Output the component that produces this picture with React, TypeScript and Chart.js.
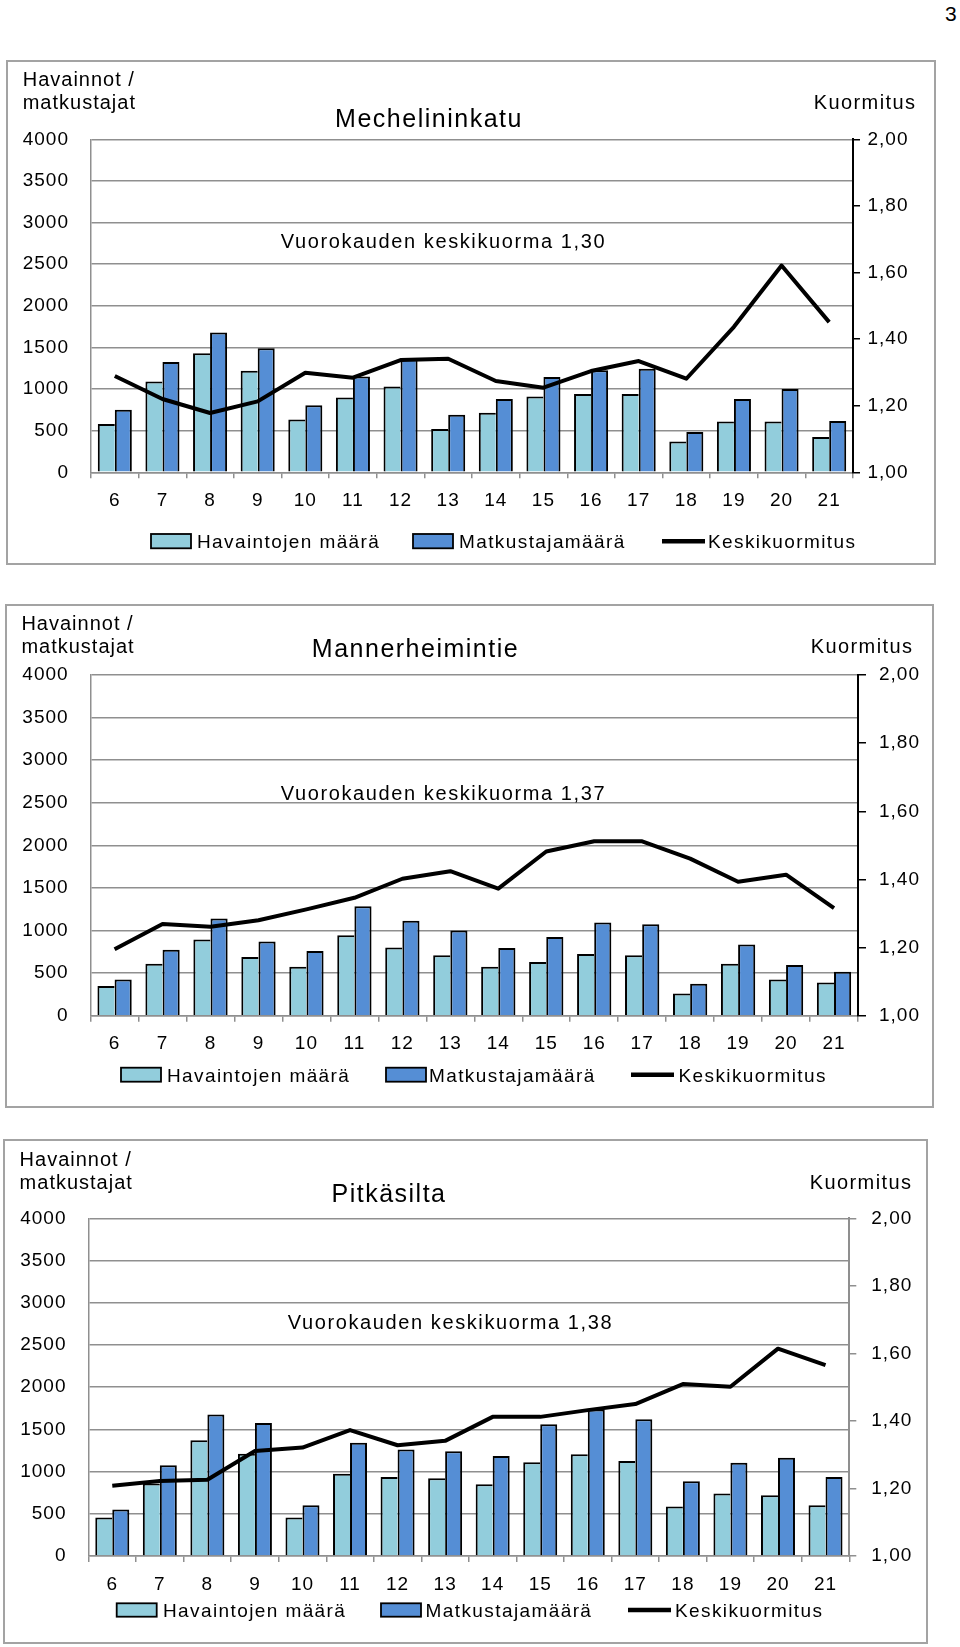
import React, { useEffect, useRef, useState } from 'react';
import { Chart, registerables } from 'chart.js';

Chart.register(...registerables);

// ---------- DATA ----------
const hours = ['6', '7', '8', '9', '10', '11', '12', '13', '14', '15', '16', '17', '18', '19', '20', '21'];
const leftTickMax = 4000;
const leftTickStep = 500;
const rightTickMin = 1.0;
const rightTickMax = 2.0;
const rightTickStep = 0.2;

const seriesNames = ['Havaintojen määrä', 'Matkustajamäärä', 'Keskikuormitus'];
const leftAxisTitle = ['Havainnot /', 'matkustajat'];
const rightAxisTitle = 'Kuormitus';

const chartTitles = ['Mechelininkatu', 'Mannerheimintie', 'Pitkäsilta'];
const dailyNotes = ['Vuorokauden keskikuorma 1,30', 'Vuorokauden keskikuorma 1,37', 'Vuorokauden keskikuorma 1,38'];

const mechHavainnot = [580, 1090, 1430, 1220, 635, 900, 1030, 520, 715, 910, 940, 940, 370, 610, 610, 425];
const mechMatkustajat = [750, 1325, 1680, 1490, 805, 1150, 1370, 690, 880, 1145, 1225, 1245, 485, 880, 1000, 615];
const mechKuormitus = [1.289, 1.22, 1.178, 1.213, 1.299, 1.284, 1.337, 1.341, 1.274, 1.254, 1.304, 1.334, 1.281, 1.437, 1.621, 1.451];

const manHavainnot = [350, 610, 895, 690, 575, 945, 800, 710, 575, 630, 725, 710, 260, 610, 425, 390];
const manMatkustajat = [425, 775, 1140, 870, 760, 1285, 1115, 1000, 795, 925, 1095, 1075, 375, 835, 595, 515];
const manKuormitus = [1.195, 1.269, 1.261, 1.28, 1.312, 1.346, 1.402, 1.424, 1.373, 1.482, 1.512, 1.512, 1.461, 1.393, 1.414, 1.316];

const pitHavainnot = [455, 860, 1370, 1210, 455, 975, 935, 920, 850, 1110, 1205, 1125, 585, 740, 720, 600];
const pitMatkustajat = [550, 1075, 1675, 1575, 600, 1340, 1260, 1240, 1185, 1560, 1735, 1620, 885, 1105, 1165, 935];
const pitKuormitus = [1.208, 1.222, 1.226, 1.311, 1.321, 1.373, 1.328, 1.341, 1.412, 1.412, 1.432, 1.45, 1.509, 1.501, 1.614, 1.565];

// ---------- STYLE / LAYOUT ----------
const FONT = '"Liberation Sans", Arial, Helvetica, sans-serif';
const LIGHT = '#92CDDC';
const DARK = '#558ED5';
const GRID = '#8f8f8f';
const BOX_BORDER = '#a3a3a3';
const BAR_BORDER = 2;

const layouts = [
  {
    left: 7, top: 61, width: 928, height: 503,
    plotL: 84, plotR: 846, plotT: 78.3, plotB: 411.3,
    rTick: 7, rPad: 7.5, rAxisColor: '#000',
    axTitleX: 15.7, axTitle1Y: 25, axTitle2Y: 48.3, kuormRight: 908,
    titleX: 422, titleY: 65.7, noteX: 436.5, noteY: 187.3,
    legTop: 473, legBase: 487.3, legSw1: 144, legTx1: 190, legSw2: 406, legTx2: 452,
    legLine: 655, legTx3: 701,
  },
  {
    left: 6, top: 605, width: 927, height: 502,
    plotL: 84.6, plotR: 852, plotT: 70, plotB: 410.7,
    rTick: 8, rPad: 13, rAxisColor: '#000',
    axTitleX: 15.4, axTitle1Y: 24.5, axTitle2Y: 48, kuormRight: 906,
    titleX: 409.5, titleY: 51.7, noteX: 437.5, noteY: 195,
    legTop: 462.7, legBase: 476.7, legSw1: 115, legTx1: 161, legSw2: 380, legTx2: 423,
    legLine: 625, legTx3: 672.5,
  },
  {
    left: 4, top: 1140, width: 923, height: 503,
    plotL: 84.5, plotR: 845.3, plotT: 78.3, plotB: 416,
    rTick: 7, rPad: 15, rAxisColor: GRID,
    axTitleX: 15.6, axTitle1Y: 25.5, axTitle2Y: 49, kuormRight: 907,
    titleX: 385, titleY: 61.7, noteX: 446.5, noteY: 189.3,
    legTop: 463.3, legBase: 476.7, legSw1: 112.7, legTx1: 159, legSw2: 377, legTx2: 421.6,
    legLine: 624, legTx3: 671,
  },
];

function setLS(ctx: any, v: string) {
  try {
    if (ctx && 'letterSpacing' in ctx) ctx.letterSpacing = v;
  } catch (e) {
    /* ignore */
  }
}

function Panel(props: any) {
  const { lay, title, note, havainnot, matkustajat, kuormitus } = props;
  const ref = useRef<HTMLCanvasElement>(null);
  const [err, setErr] = useState('');

  useEffect(() => {
    const canvas = ref.current;
    if (!canvas) return;
    let chart: any = null;
    try {
      const textPlugin = {
        id: 'panelTexts',
        beforeDraw(c: any) {
          setLS(c.ctx, '1px');
        },
        afterDraw(c: any) {
          const ctx = c.ctx;
          ctx.save();
          ctx.fillStyle = '#000';
          ctx.textBaseline = 'alphabetic';

          setLS(ctx, '1px');
          ctx.font = '20px ' + FONT;
          ctx.textAlign = 'left';
          ctx.fillText(leftAxisTitle[0], lay.axTitleX, lay.axTitle1Y);
          ctx.fillText(leftAxisTitle[1], lay.axTitleX, lay.axTitle2Y);
          setLS(ctx, '1.4px');
          ctx.textAlign = 'right';
          ctx.fillText(rightAxisTitle, lay.kuormRight + 1.4, lay.axTitle2Y);

          setLS(ctx, '1.5px');
          ctx.font = '25px ' + FONT;
          ctx.textAlign = 'center';
          ctx.fillText(title, lay.titleX, lay.titleY);

          setLS(ctx, '1.6px');
          ctx.font = '20px ' + FONT;
          ctx.fillText(note, lay.noteX, lay.noteY);

          setLS(ctx, '1.4px');
          ctx.font = '19px ' + FONT;
          ctx.textAlign = 'left';
          const swH = lay.legBase - lay.legTop;
          const drawSwatch = (x: number, color: string) => {
            ctx.fillStyle = color;
            ctx.fillRect(x, lay.legTop, 40, swH);
            ctx.strokeStyle = '#000';
            ctx.lineWidth = 1.8;
            ctx.strokeRect(x, lay.legTop, 40, swH);
          };
          drawSwatch(lay.legSw1, LIGHT);
          drawSwatch(lay.legSw2, DARK);
          ctx.beginPath();
          ctx.strokeStyle = '#000';
          ctx.lineWidth = 4.5;
          const ly = lay.legTop + swH / 2;
          ctx.moveTo(lay.legLine, ly);
          ctx.lineTo(lay.legLine + 43, ly);
          ctx.stroke();
          ctx.fillStyle = '#000';
          ctx.fillText(seriesNames[0], lay.legTx1, lay.legBase);
          ctx.fillText(seriesNames[1], lay.legTx2, lay.legBase);
          ctx.fillText(seriesNames[2], lay.legTx3, lay.legBase);
          ctx.restore();
        },
      };

      const tickFont = { family: FONT, size: 19 };

      const config: any = {
        type: 'bar',
        data: {
          labels: hours,
          datasets: [
            {
              type: 'bar',
              label: seriesNames[0],
              data: havainnot,
              backgroundColor: LIGHT,
              borderColor: '#000',
              borderWidth: { left: BAR_BORDER, top: BAR_BORDER, right: 0, bottom: 0 },
              yAxisID: 'y',
              order: 1,
              categoryPercentage: 0.715,
              barPercentage: 1,
            },
            {
              type: 'bar',
              label: seriesNames[1],
              data: matkustajat,
              backgroundColor: DARK,
              borderColor: '#000',
              borderWidth: { left: BAR_BORDER, top: BAR_BORDER, right: BAR_BORDER, bottom: 0 },
              yAxisID: 'y',
              order: 1,
              categoryPercentage: 0.715,
              barPercentage: 1,
            },
            {
              type: 'line',
              label: seriesNames[2],
              data: kuormitus,
              borderColor: '#000',
              backgroundColor: '#000',
              borderWidth: 4,
              pointRadius: 0,
              tension: 0,
              borderJoinStyle: 'round',
              yAxisID: 'y1',
              order: 0,
            },
          ],
        },
        options: {
          responsive: false,
          maintainAspectRatio: false,
          animation: false,
          devicePixelRatio: 1,
          layout: { padding: { top: lay.plotT, left: 0, right: 0, bottom: 0 } },
          plugins: {
            legend: { display: false },
            title: { display: false },
            tooltip: { enabled: false },
          },
          scales: {
            x: {
              position: 'bottom',
              grid: { offset: true, drawOnChartArea: false, drawTicks: true, tickLength: 6, color: GRID, lineWidth: 1.5 },
              border: { display: true, color: GRID, width: 1.5 },
              ticks: { color: '#000', font: tickFont, padding: 11, maxRotation: 0, autoSkip: false },
              afterFit: (s: any) => {
                s.height = lay.height - lay.plotB;
              },
            },
            y: {
              position: 'left',
              min: 0,
              max: leftTickMax,
              grid: { drawTicks: false, color: GRID, lineWidth: 1.5 },
              border: { display: true, color: GRID, width: 1.5 },
              ticks: {
                stepSize: leftTickStep,
                color: '#000',
                font: tickFont,
                padding: 22,
                callback: (v: any) => String(Math.round(Number(v))),
              },
              afterFit: (s: any) => {
                s.width = lay.plotL;
              },
            },
            y1: {
              position: 'right',
              min: rightTickMin,
              max: rightTickMax,
              grid: { drawOnChartArea: false, drawTicks: true, tickLength: lay.rTick, color: lay.rAxisColor, lineWidth: 1.5 },
              border: { display: true, color: lay.rAxisColor, width: 2 },
              ticks: {
                stepSize: rightTickStep,
                color: '#000',
                font: tickFont,
                padding: lay.rPad,
                callback: (v: any) => Number(v).toFixed(2).replace('.', ','),
              },
              afterFit: (s: any) => {
                s.width = lay.width - lay.plotR;
              },
            },
          },
        },
        plugins: [textPlugin],
      };
      chart = new Chart(canvas, config);
    } catch (e: any) {
      setErr(String(e && e.stack ? e.stack : e));
    }
    return () => {
      if (chart) chart.destroy();
    };
  }, [lay, title, note, havainnot, matkustajat, kuormitus]);

  return (
    <div
      style={{
        position: 'absolute',
        left: lay.left,
        top: lay.top,
        width: lay.width,
        height: lay.height,
      }}
    >
      <canvas ref={ref} width={lay.width} height={lay.height} style={{ display: 'block', width: lay.width, height: lay.height }} />
      <div
        style={{
          position: 'absolute',
          left: -1,
          top: -1,
          width: lay.width + 2,
          height: lay.height + 2,
          border: '2px solid ' + BOX_BORDER,
          boxSizing: 'border-box',
          pointerEvents: 'none',
        }}
      />
      {err ? (
        <pre style={{ position: 'absolute', left: 10, top: 10, fontSize: 12, color: 'red', whiteSpace: 'pre-wrap', width: 900 }}>{err}</pre>
      ) : null}
    </div>
  );
}

export default function App() {
  return (
    <div style={{ position: 'relative', width: 960, height: 1647, background: '#fff', overflow: 'hidden' }}>
      <style>{'html,body{margin:0;padding:0;overflow:hidden;}'}</style>
      <div
        style={{
          position: 'absolute',
          left: 945,
          top: 3,
          fontFamily: FONT,
          fontSize: 21,
          lineHeight: '21px',
          color: '#000',
        }}
      >
        3
      </div>
      <Panel lay={layouts[0]} title={chartTitles[0]} note={dailyNotes[0]} havainnot={mechHavainnot} matkustajat={mechMatkustajat} kuormitus={mechKuormitus} />
      <Panel lay={layouts[1]} title={chartTitles[1]} note={dailyNotes[1]} havainnot={manHavainnot} matkustajat={manMatkustajat} kuormitus={manKuormitus} />
      <Panel lay={layouts[2]} title={chartTitles[2]} note={dailyNotes[2]} havainnot={pitHavainnot} matkustajat={pitMatkustajat} kuormitus={pitKuormitus} />
    </div>
  );
}
